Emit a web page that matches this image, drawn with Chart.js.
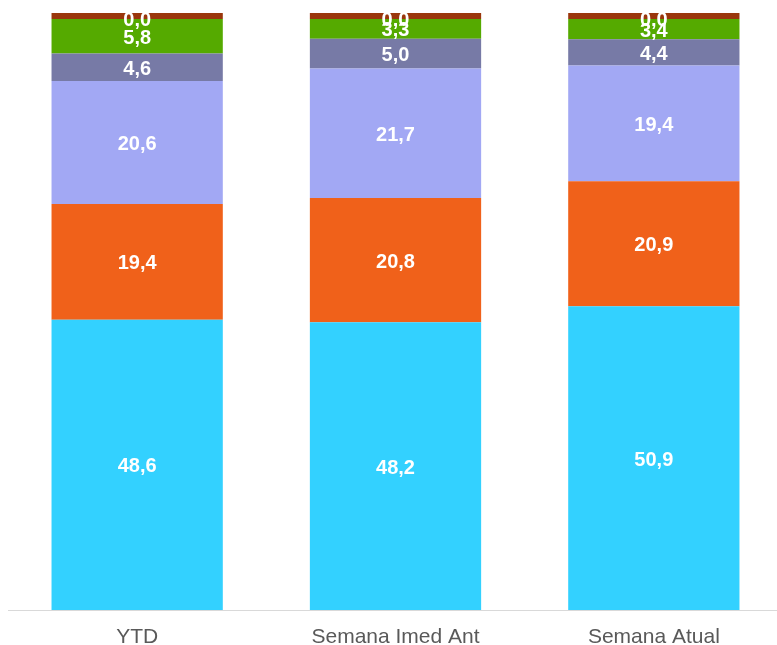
<!DOCTYPE html>
<html>
<head>
<meta charset="utf-8">
<script src="https://cdn.jsdelivr.net/npm/chart.js@4"></script>
<style>
  html, body { margin: 0; padding: 0; background: #ffffff; overflow: hidden; }
  #wrap { width: 777px; height: 645px; overflow: hidden; position: relative; }
  #box { position: absolute; left: 0; top: 0; width: 783px; height: 645px; }
</style>
</head>
<body>
<div id="wrap"><div id="box"><canvas id="c"></canvas></div></div>
<script>
const categories = ["YTD", "Semana Imed Ant", "Semana Atual"];
const seriesA = [48.6, 48.2, 50.9];   // cyan
const seriesB = [19.4, 20.8, 20.9];   // orange
const seriesC = [20.6, 21.7, 19.4];   // lavender
const seriesD = [4.6, 5.0, 4.4];      // slate
const seriesE = [5.8, 3.3, 3.4];      // green
const seriesF = [0.0, 0.0, 0.0];      // zero series (labelled 0,0)
const seriesG = [1.0, 1.0, 1.0];      // brown top band (unlabelled)

const colors = ["#33D1FF", "#F0611A", "#A2A8F4", "#777AA6", "#55AA00", "#C0C0C0", "#9A360C"];
const showLabel = [true, true, true, true, true, true, false];
const allSeries = [seriesA, seriesB, seriesC, seriesD, seriesE, seriesF, seriesG];

const datasets = allSeries.map((s, i) => ({
  data: s,
  backgroundColor: colors[i],
  borderWidth: 0,
  categoryPercentage: 1,
  barPercentage: 0.663
}));

const fmt = v => v.toFixed(1).replace('.', ',');

const labelPlugin = {
  id: 'segLabels',
  afterDatasetsDraw(chart) {
    const ctx = chart.ctx;
    ctx.save();
    ctx.font = 'bold 20px "Liberation Sans", Arial, sans-serif';
    ctx.fillStyle = '#ffffff';
    ctx.textAlign = 'center';
    ctx.textBaseline = 'middle';
    chart.data.datasets.forEach((ds, di) => {
      if (!showLabel[di]) return;
      const meta = chart.getDatasetMeta(di);
      meta.data.forEach((bar, i) => {
        const p = bar.getProps(['x', 'y', 'base'], true);
        const cy = (p.y + p.base) / 2;
        ctx.fillText(fmt(ds.data[i]), p.x, cy + 2);
      });
    });
    ctx.restore();
  }
};

new Chart(document.getElementById('c'), {
  type: 'bar',
  data: { labels: categories, datasets },
  options: {
    responsive: true,
    maintainAspectRatio: false,
    animation: false,
    layout: { padding: { top: 13, left: 8, right: 0, bottom: 0 } },
    plugins: { legend: { display: false }, tooltip: { enabled: false } },
    scales: {
      x: {
        stacked: true,
        grid: { display: false, drawTicks: false },
        border: { display: true, color: '#D9D9D9', width: 1 },
        ticks: {
          color: '#595959',
          padding: 15,
          font: { family: '"Liberation Sans", Arial, sans-serif', size: 21 }
        },
        afterFit(s) { s.height = 35; }
      },
      y: {
        stacked: true,
        display: false,
        min: 0,
        max: 100
      }
    }
  },
  plugins: [labelPlugin]
});
</script>
</body>
</html>
